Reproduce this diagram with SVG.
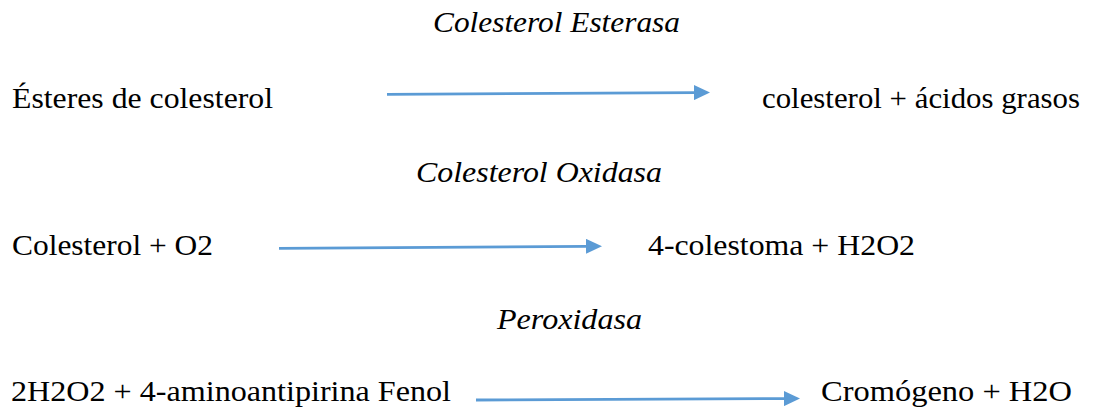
<svg xmlns="http://www.w3.org/2000/svg" width="1100" height="409" viewBox="0 0 1100 409">
  <style>
    text { font-family: 'Liberation Serif', Tinos, 'Times New Roman', 'DejaVu Serif', serif; font-size: 29.5px; fill: #000000; }
    .enz { font-style: italic; }
    .arrow { stroke: #5B9BD5; stroke-width: 2.8; fill: none; }
  </style>
  <defs>
    <marker id="head" viewBox="0 0 16 15" markerWidth="16" markerHeight="15" markerUnits="userSpaceOnUse" refX="1" refY="7.5" orient="auto">
      <path d="M0,0 L16,7.5 L0,15 Z" fill="#5B9BD5"/>
    </marker>
  </defs>
  <rect width="1100" height="409" fill="#ffffff"/>

  <g id="enzyme1"><text class="enz" x="433" y="32" textLength="247" lengthAdjust="spacingAndGlyphs">Colesterol Esterasa</text></g>
  <g id="reactant1"><text x="12" y="108" textLength="261" lengthAdjust="spacingAndGlyphs">Ésteres de colesterol</text></g>
  <g id="product1"><text x="762" y="108" textLength="318" lengthAdjust="spacingAndGlyphs">colesterol + ácidos grasos</text></g>

  <g id="enzyme2"><text class="enz" x="416" y="182" textLength="246" lengthAdjust="spacingAndGlyphs">Colesterol Oxidasa</text></g>
  <g id="reactant2"><text x="12" y="255" textLength="201" lengthAdjust="spacingAndGlyphs">Colesterol + O2</text></g>
  <g id="product2"><text x="648" y="255" textLength="267" lengthAdjust="spacingAndGlyphs">4-colestoma + H2O2</text></g>

  <g id="enzyme3"><text class="enz" x="497" y="329" textLength="145" lengthAdjust="spacingAndGlyphs">Peroxidasa</text></g>
  <g id="reactant3"><text x="11" y="401" textLength="440" lengthAdjust="spacingAndGlyphs">2H2O2 + 4-aminoantipirina Fenol</text></g>
  <g id="product3"><text x="821" y="401" textLength="251" lengthAdjust="spacingAndGlyphs">Cromógeno + H2O</text></g>

  <g id="connectors">
    <line class="arrow" x1="387" y1="94.3" x2="695" y2="92.6" marker-end="url(#head)"/>
    <line class="arrow" x1="279" y1="248.3" x2="587" y2="246.3" marker-end="url(#head)"/>
    <line class="arrow" x1="476" y1="400" x2="785" y2="398.6" marker-end="url(#head)"/>
  </g>
</svg>
